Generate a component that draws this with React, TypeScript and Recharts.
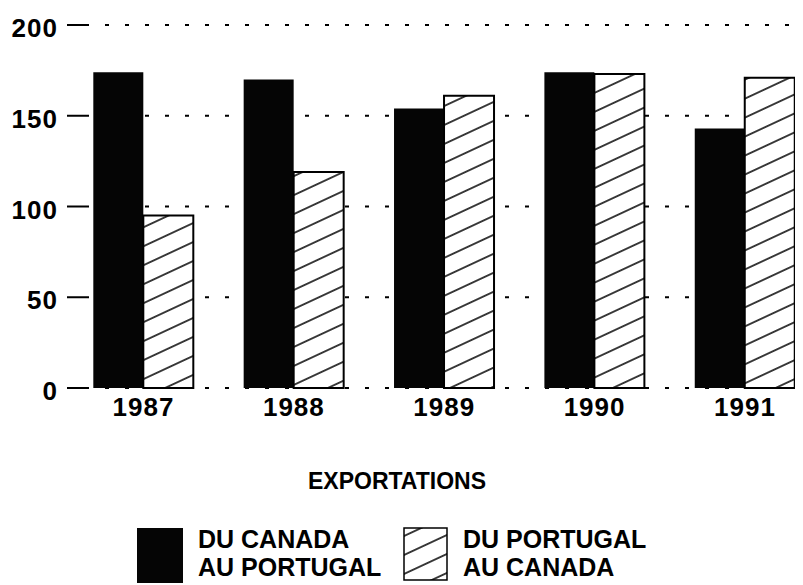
import React from 'react';
import { BarChart, Bar, XAxis, YAxis, CartesianGrid, Legend } from 'recharts';

const years = ['1987', '1988', '1989', '1990', '1991'];
const canadaToPortugal = [174, 170, 154, 174, 143];
const portugalToCanada = [95, 119, 161, 173, 171];
const yTicks = [0, 50, 100, 150, 200];
const seriesLabels = [
  ['DU CANADA', 'AU PORTUGAL'],
  ['DU PORTUGAL', 'AU CANADA'],
];
const legendTitle = 'EXPORTATIONS';

const FONT = '"Liberation Sans", Arial, Helvetica, sans-serif';

const chartData = years.map((year, i) => ({
  idx: i,
  year,
  ca: canadaToPortugal[i],
  pt: portugalToCanada[i],
}));

// hatched swatch + bars share the same pattern
const HatchDefs = () => (
  <defs>
    <pattern
      id="hatch"
      patternUnits="userSpaceOnUse"
      width="20"
      height="17.2"
      patternTransform="rotate(-25)"
    >
      <rect width="20" height="17.2" fill="#fff" />
      <line x1="0" y1="8.6" x2="20" y2="8.6" stroke="#000" strokeWidth="1.5" />
    </pattern>
  </defs>
);

const textStyle: React.CSSProperties = {
  position: 'absolute',
  fontFamily: FONT,
  fontWeight: 'bold',
  color: '#000',
  whiteSpace: 'nowrap',
};

const renderLegend = () => (
  <div style={{ position: 'relative', width: 803, height: 125 }}>
    <div style={{ ...textStyle, left: 0, width: 794, textAlign: 'center', top: 10, fontSize: 23, lineHeight: '23px' }}>
      {legendTitle}
    </div>
    <div style={{ position: 'absolute', left: 137, top: 68, width: 46, height: 55, background: '#050505' }} />
    <div style={{ ...textStyle, left: 198, top: 65, fontSize: 25, lineHeight: '28px' }}>
      {seriesLabels[0][0]}
      <br />
      {seriesLabels[0][1]}
    </div>
    <svg style={{ position: 'absolute', left: 403, top: 67 }} width={46} height={54}>
      <rect x={1} y={1} width={43} height={52} fill="url(#hatch)" stroke="#000" strokeWidth={1.5} />
    </svg>
    <div style={{ ...textStyle, left: 463, top: 65, fontSize: 25, lineHeight: '28px' }}>
      {seriesLabels[1][0]}
      <br />
      {seriesLabels[1][1]}
    </div>
  </div>
);

export default function App() {
  const tickStyle = { fill: '#000', fontSize: 26, fontWeight: 'bold', fontFamily: FONT, letterSpacing: 1 };

  return (
    <div style={{ width: 803, height: 585, background: '#fff' }}>
      <style>{'body { margin: 0; }'}</style>
      <BarChart
        width={803}
        height={585}
        data={chartData}
        margin={{ top: 25, right: 8, bottom: 0, left: 0 }}
        barGap={0}
      >
        <HatchDefs />
        <CartesianGrid vertical={false} stroke="#000" strokeWidth={2} strokeDasharray="4 16" />
        <XAxis
          type="number"
          dataKey="idx"
          domain={[-0.389, 4.333]}
          allowDataOverflow
          ticks={[0, 1, 2, 3, 4]}
          tickFormatter={(v: number) => years[v]}
          axisLine={false}
          tickLine={false}
          tickSize={0}
          tickMargin={10}
          height={72}
          tick={tickStyle}
          interval={0}
        />
        <YAxis
          domain={[0, 200]}
          ticks={yTicks}
          width={85}
          axisLine={false}
          tickLine={{ stroke: '#000', strokeWidth: 2 }}
          tickSize={18}
          tickMargin={9}
          tick={{ ...tickStyle, dy: 3 }}
          interval={0}
        />
        <Legend verticalAlign="bottom" content={renderLegend} wrapperStyle={{ left: 0, bottom: 0, width: 803 }} />
        <Bar dataKey="ca" fill="#050505" barSize={50} isAnimationActive={false} />
        <Bar dataKey="pt" fill="url(#hatch)" stroke="#000" strokeWidth={2} barSize={50} isAnimationActive={false} />
      </BarChart>
    </div>
  );
}
